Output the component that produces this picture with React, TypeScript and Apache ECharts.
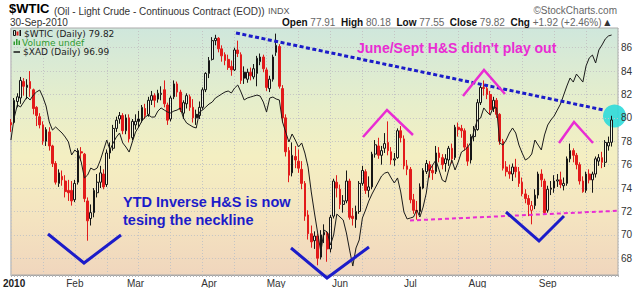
import React, { useEffect, useRef } from "react";
import * as echarts from "echarts";

const FONT = '"Liberation Sans", Arial, Helvetica, sans-serif';
const LEGEND_FONT = '"DejaVu Sans", Verdana, sans-serif';

// ---- categories: trading days (2009-12-31 plus 2010 sessions) ----
const monthLabels = ["2010", "Feb", "Mar", "Apr", "May", "Jun", "Jul", "Aug", "Sep"];
const janDays = [4, 5, 6, 7, 8, 11, 12, 13, 14, 15, 19, 20, 21, 22, 25, 26, 27, 28, 29];
const febDays = [1, 2, 3, 4, 5, 8, 9, 10, 11, 12, 16, 17, 18, 19, 22, 23, 24, 25, 26];
const marDays = [1, 2, 3, 4, 5, 8, 9, 10, 11, 12, 15, 16, 17, 18, 19, 22, 23, 24, 25, 26, 29, 30, 31];
const aprDays = [1, 5, 6, 7, 8, 9, 12, 13, 14, 15, 16, 19, 20, 21, 22, 23, 26, 27, 28, 29, 30];
const mayDays = [3, 4, 5, 6, 7, 10, 11, 12, 13, 14, 17, 18, 19, 20, 21, 24, 25, 26, 27, 28];
const junDays = [1, 2, 3, 4, 7, 8, 9, 10, 11, 14, 15, 16, 17, 18, 21, 22, 23, 24, 25, 28, 29, 30];
const julDays = [1, 2, 6, 7, 8, 9, 12, 13, 14, 15, 16, 19, 20, 21, 22, 23, 26, 27, 28, 29, 30];
const augDays = [2, 3, 4, 5, 6, 9, 10, 11, 12, 13, 16, 17, 18, 19, 20, 23, 24, 25, 26, 27, 30, 31];
const sepDays = [1, 2, 3, 7, 8, 9, 10, 13, 14, 15, 16, 17, 20, 21, 22, 23, 24, 27, 28, 29, 30];
const monthDays = [janDays, febDays, marDays, aprDays, mayDays, junDays, julDays, augDays, sepDays];

// ---- $WTIC daily candles: [open, close, low, high] ----
const wticDec31 = [79.6, 79.4, 78.8, 79.9];
const wticJan = [
  [79.6, 81.5, 79.5, 81.7], [81.4, 81.8, 80.9, 82.1], [81.7, 83.2, 81.2, 83.5], [83.1, 82.7, 81.9, 83.4],
  [82.6, 82.8, 81.6, 83.3], [83.1, 82.5, 81.8, 84.0], [82.4, 80.8, 80.3, 82.5], [80.9, 80.2, 79.3, 81.0],
  [80.1, 79.4, 79.1, 80.4], [79.4, 78.0, 77.7, 79.7], [78.0, 79.0, 77.6, 79.2], [78.8, 77.6, 77.2, 79.2],
  [77.6, 76.1, 75.8, 77.7], [76.1, 74.5, 74.3, 76.3], [74.4, 75.3, 74.1, 75.6], [75.0, 74.7, 74.2, 75.5],
  [74.6, 73.7, 73.2, 75.1], [73.8, 73.6, 72.9, 74.7], [73.8, 72.9, 72.5, 74.6],
];
const wticFeb = [
  [73.0, 74.4, 72.8, 74.7], [74.5, 77.2, 74.3, 77.4], [77.1, 77.0, 76.3, 77.5], [76.9, 73.1, 72.8, 77.0],
  [72.9, 71.2, 69.5, 73.2], [71.4, 71.9, 70.8, 72.6], [71.9, 73.8, 71.5, 74.0], [73.6, 74.5, 73.2, 75.2],
  [74.5, 75.3, 74.0, 75.9], [75.2, 74.1, 73.9, 75.6], [74.3, 77.0, 74.1, 77.3], [77.0, 77.3, 76.5, 77.9],
  [77.4, 79.1, 77.2, 79.4], [79.1, 79.8, 78.8, 80.1], [79.9, 80.2, 79.5, 80.5], [80.2, 78.9, 78.6, 80.4],
  [78.9, 80.0, 78.6, 80.3], [80.0, 78.2, 77.9, 80.3], [78.3, 79.7, 78.1, 79.9],
];
const wticMar = [
  [79.4, 79.7, 79.0, 80.3], [79.9, 79.7, 79.2, 80.6], [79.8, 80.9, 79.6, 81.1], [80.8, 80.2, 79.9, 81.2],
  [80.3, 81.5, 80.1, 81.8], [81.5, 81.9, 81.1, 82.3], [81.9, 81.5, 80.9, 82.1], [81.6, 82.1, 81.3, 82.4],
  [82.0, 82.1, 81.5, 82.7], [82.4, 81.2, 80.9, 83.2], [81.1, 79.8, 79.4, 81.3], [79.9, 81.7, 79.7, 81.9],
  [81.8, 82.9, 81.6, 83.2], [82.9, 82.2, 81.8, 83.1], [82.2, 80.7, 80.5, 82.4], [80.4, 81.3, 79.9, 81.5],
  [81.2, 81.9, 80.8, 82.1], [81.8, 80.9, 80.6, 82.0], [80.9, 80.0, 79.6, 81.6], [80.3, 80.0, 79.4, 80.7],
  [80.2, 80.9, 79.9, 81.4], [80.9, 82.4, 80.7, 82.6], [82.4, 83.8, 82.2, 83.9],
];
const wticApr = [
  [83.8, 84.9, 83.4, 85.2], [85.0, 86.6, 84.9, 86.9], [86.6, 86.8, 86.2, 87.1], [86.8, 85.9, 85.6, 86.9],
  [85.9, 85.3, 84.8, 86.2], [85.4, 84.9, 84.5, 85.6], [85.0, 84.3, 84.1, 85.4], [84.4, 84.1, 83.6, 84.9],
  [84.1, 85.8, 84.0, 86.0], [85.8, 85.5, 85.2, 86.6], [85.4, 83.2, 82.9, 85.6], [83.9, 83.4, 82.9, 84.4],
  [83.3, 83.9, 83.0, 84.2], [83.9, 83.6, 83.2, 84.3], [83.5, 84.2, 83.3, 84.6], [83.8, 85.1, 82.7, 85.3],
  [84.8, 85.2, 84.5, 85.5], [85.2, 84.2, 83.9, 85.4], [84.1, 82.6, 82.3, 84.3], [82.5, 83.3, 82.2, 83.6],
  [83.3, 85.2, 83.1, 85.4],
];
const wticMay = [
  [85.6, 86.2, 85.3, 87.2], [86.1, 82.7, 82.5, 86.3], [82.5, 80.0, 79.6, 82.8], [80.0, 77.1, 76.7, 80.3],
  [77.2, 75.1, 74.5, 77.5], [75.3, 76.8, 75.0, 77.9], [76.7, 76.4, 75.7, 77.6], [76.3, 75.7, 75.3, 77.3],
  [75.6, 74.4, 73.9, 76.3], [74.4, 71.6, 71.2, 74.6], [71.7, 70.1, 69.6, 72.1], [70.1, 69.4, 68.9, 70.8],
  [69.5, 69.9, 68.8, 70.3], [69.9, 68.0, 67.4, 70.1], [68.1, 70.0, 67.9, 70.4], [70.0, 70.2, 69.3, 70.9],
  [70.1, 68.8, 67.7, 70.3], [68.8, 71.5, 68.5, 71.7], [71.6, 74.6, 71.4, 74.8], [74.5, 74.0, 73.2, 75.1],
];
const wticJun = [
  [73.9, 72.6, 72.2, 74.3], [72.6, 72.9, 71.9, 73.4], [72.9, 74.6, 72.7, 75.5], [74.6, 71.5, 71.3, 74.8],
  [71.6, 71.4, 70.8, 72.3], [71.3, 72.0, 70.6, 72.5], [72.0, 74.4, 71.8, 74.6], [74.4, 75.5, 74.2, 75.9],
  [75.4, 73.8, 73.5, 75.6], [73.8, 74.1, 73.2, 75.0], [74.1, 76.9, 73.9, 77.1], [76.9, 77.7, 76.6, 78.1],
  [77.6, 76.8, 76.5, 78.3], [76.8, 77.2, 76.0, 77.6], [77.4, 77.8, 77.0, 78.7], [77.9, 77.2, 76.8, 79.7],
  [77.1, 76.4, 76.0, 77.5], [76.4, 76.5, 75.9, 77.0], [76.6, 78.9, 76.5, 79.1], [78.9, 78.3, 77.9, 79.3],
  [78.2, 75.9, 75.6, 78.5], [75.9, 75.6, 75.1, 76.4],
];
const wticJul = [
  [75.6, 73.0, 72.7, 75.8], [73.0, 72.1, 71.8, 73.5], [72.1, 72.0, 71.3, 72.9], [72.0, 74.1, 71.7, 74.4],
  [74.0, 75.5, 73.9, 75.7], [75.4, 76.1, 75.2, 76.4], [76.0, 75.5, 74.9, 76.3], [75.5, 75.3, 74.7, 76.0],
  [75.4, 77.0, 75.2, 77.6], [77.0, 76.6, 76.2, 77.5], [76.6, 76.0, 75.6, 76.9], [76.1, 76.5, 75.4, 76.9],
  [76.4, 77.4, 75.9, 77.6], [77.4, 76.5, 76.1, 77.8], [76.6, 79.2, 76.4, 79.4], [79.2, 79.0, 78.4, 79.6],
  [79.1, 78.9, 78.3, 79.4], [78.9, 77.5, 77.2, 79.1], [77.5, 76.3, 75.9, 77.8], [76.4, 78.4, 76.1, 78.6],
  [78.4, 79.0, 78.0, 79.3],
];
const wticAug = [
  [79.0, 81.3, 78.9, 81.6], [81.3, 82.6, 81.1, 82.9], [82.6, 82.5, 81.9, 83.2], [82.5, 82.0, 81.6, 82.8],
  [82.0, 80.7, 80.3, 82.3], [80.8, 81.5, 80.5, 81.8], [81.5, 80.3, 80.0, 81.7], [80.3, 78.0, 77.7, 80.4],
  [78.0, 75.7, 75.5, 78.2], [75.8, 75.4, 75.0, 76.3], [75.4, 75.2, 74.8, 76.0], [75.2, 75.8, 74.6, 76.1],
  [75.8, 75.4, 74.9, 76.5], [75.4, 74.4, 74.1, 75.8], [74.5, 73.5, 73.3, 74.9], [73.5, 73.1, 72.7, 73.9],
  [73.1, 72.6, 71.6, 73.4], [72.1, 72.5, 70.9, 72.9], [72.5, 73.4, 72.2, 73.9], [73.4, 75.2, 73.1, 75.4],
  [75.2, 74.7, 74.1, 75.6], [74.6, 71.9, 71.7, 74.8],
];
const wticSep = [
  [72.1, 73.9, 71.9, 74.2], [73.9, 74.0, 73.4, 74.6], [74.0, 74.6, 73.6, 75.1], [74.6, 74.7, 74.1, 75.2],
  [74.7, 74.3, 74.0, 75.4], [74.2, 74.4, 73.8, 74.9], [74.4, 76.5, 74.2, 76.7], [76.5, 77.2, 76.2, 77.8],
  [77.2, 76.8, 76.2, 77.4], [76.8, 76.0, 75.6, 77.0], [76.0, 74.6, 74.3, 76.2], [74.6, 73.7, 73.6, 75.0],
  [73.8, 75.2, 73.6, 75.4], [75.2, 74.7, 74.4, 75.6], [74.7, 75.2, 73.6, 75.4], [75.2, 76.5, 74.9, 76.7],
  [76.3, 76.6, 75.9, 76.9], [76.6, 76.2, 75.7, 77.1], [76.2, 77.9, 75.8, 78.1], [77.6, 77.9, 77.2, 78.4],
  [77.91, 79.82, 77.55, 80.18],
];

// ---- $XAD overlay (daily close) ----
const xadDec31 = 89.49;
const xadJan = [91.06, 91.99, 91.85, 92.2, 92.56, 92.35, 92.7, 92.92, 93.06, 92.56, 91.92, 90.78, 90.2, 90.42, 90.2, 89.99, 89.7, 89.35, 88.42];
const xadFeb = [88.78, 88.56, 87.92, 86.78, 86.99, 87.49, 87.35, 87.49, 88.06, 88.78, 89.49, 88.78, 89.28, 89.7, 89.99, 89.28, 88.99, 88.63, 89.35];
const xadMar = [90.06, 90.42, 90.85, 91.13, 91.28, 91.13, 91.13, 91.56, 91.78, 91.63, 91.49, 91.42, 91.56, 91.63, 91.78, 91.06, 90.7, 90.56, 90.42, 90.35, 91.49, 91.63, 91.85];
const xadApr = [92.06, 92.2, 92.49, 92.63, 92.78, 92.92, 92.99, 92.85, 93.2, 93.42, 92.92, 92.35, 92.49, 92.56, 92.63, 92.7, 92.63, 92.2, 91.49, 92.49, 92.56];
const xadMay = [92.42, 92.35, 90.78, 90.06, 89.35, 89.92, 89.49, 88.99, 89.28, 88.56, 87.56, 85.78, 84.28, 82.85, 81.49, 83.06, 82.92, 81.99, 82.7, 84.2];
const xadJun = [83.99, 83.78, 82.85, 81.63, 80.49, 81.78, 82.35, 83.92, 84.49, 85.13, 85.63, 86.06, 86.49, 86.92, 87.13, 87.2, 86.78, 86.42, 86.78, 85.78, 84.35, 83.85];
const xadJul = [83.92, 83.99, 84.49, 83.99, 84.7, 85.7, 87.35, 87.7, 88.06, 87.35, 86.63, 86.49, 87.35, 88.06, 87.35, 87.92, 88.63, 88.78, 88.99, 89.35, 90.2];
const xadAug = [90.92, 91.06, 91.78, 91.49, 91.28, 91.85, 91.78, 89.28, 89.13, 89.49, 89.99, 90.35, 89.99, 89.13, 88.56, 88.06, 88.2, 88.49, 89.49, 89.13, 88.78, 89.85];
const xadSep = [90.56, 90.92, 91.2, 91.63, 92.06, 92.7, 93.35, 93.92, 93.63, 94.2, 93.92, 93.63, 94.78, 95.35, 95.56, 94.99, 95.92, 96.28, 96.7, 96.92, 96.99];

const priceTicks = [68, 70, 72, 74, 76, 78, 80, 82, 84, 86];
const PRICE_MIN = 66.57;
const PRICE_MAX = 87.68;
const XAD_MIN = 79.85;
const XAD_MAX = 97.49;

// ---- derived tables ----
const dates: string[] = ["2009-12-31"];
const monthStart: Record<number, string> = {};
monthDays.forEach((days, m) => {
  days.forEach((d, j) => {
    if (j === 0) monthStart[dates.length] = monthLabels[m];
    dates.push(`2010-${String(m + 1).padStart(2, "0")}-${String(d).padStart(2, "0")}`);
  });
});
const categories = [...dates, "", ""];
const ohlc: number[][] = [wticDec31, ...wticJan, ...wticFeb, ...wticMar, ...wticApr, ...wticMay, ...wticJun, ...wticJul, ...wticAug, ...wticSep];
const xad: number[] = [xadDec31, ...xadJan, ...xadFeb, ...xadMar, ...xadApr, ...xadMay, ...xadJun, ...xadJul, ...xadAug, ...xadSep];

const RED = "#e21b1b";
const BLACK = "#161616";
const HOLLOW = "rgba(255,255,255,0.45)";
const PINK = "#e92cd3";
const BLUE = "#1c1cc9";
const GREEN = "#2f9a2f";

const candleData = ohlc.map((d, i) => {
  const prevClose = i > 0 ? ohlc[i - 1][1] : d[0];
  const c = d[1] < prevClose ? RED : BLACK;
  const fill = d[1] > d[0] ? HOLLOW : c;
  return {
    value: d,
    itemStyle: { color: fill, color0: fill, borderColor: c, borderColor0: c, borderColorDoji: c },
  };
});

const last = ohlc[ohlc.length - 1];
const prev = ohlc[ohlc.length - 2];
const chg = last[1] - prev[1];
const chgPct = (chg / prev[1]) * 100;

export default function App() {
  const ref = useRef<HTMLDivElement>(null);
  useEffect(() => {
    if (!ref.current) return;
    const chart = echarts.init(ref.current, undefined, { renderer: "svg" });

    const txt = (x: number, y: number, text: string, font: string, fill: string, extra: any = {}) => ({
      type: "text",
      x,
      y,
      z: 100,
      style: { text, font, fill, verticalAlign: "middle", ...extra },
    });

    const header =
      `{l|Open} {v|${last[0].toFixed(2)}}  {l|High} {v|${last[3].toFixed(2)}}  {l|Low} {v|${last[2].toFixed(2)}}  ` +
      `{l|Close} {v|${last[1].toFixed(2)}}  {l|Chg} {v|${chg >= 0 ? "+" : ""}${chg.toFixed(2)} (${chg >= 0 ? "+" : ""}${chgPct.toFixed(2)}%)} {a|▲}`;

    const graphic: any[] = [
      txt(9, 8.5, "$WTIC", `bold 13px ${FONT}`, "#000"),
      txt(54, 11, "(Oil - Light Crude - Continuous Contract (EOD))", `10px ${FONT}`, "#333"),
      txt(268, 11, "INDX", `9px ${FONT}`, "#555"),
      txt(617, 10, "©StockCharts.com", `10px ${FONT}`, "#666", { align: "right" }),
      txt(10, 22, "30-Sep-2010", `10px ${FONT}`, "#333"),
      {
        type: "text",
        x: 282,
        y: 22,
        z: 100,
        style: {
          text: header,
          font: `10px ${FONT}`,
          fill: "#333",
          verticalAlign: "middle",
          rich: {
            l: { fontWeight: "bold", fontSize: 10, fontFamily: FONT, fill: "#111" },
            v: { fontSize: 10, fontFamily: FONT, fill: "#666" },
            a: { fontSize: 8, fontFamily: LEGEND_FONT, fill: "#333" },
          },
        },
      },
      // legend inside plot
      { type: "rect", z: 100, shape: { x: 13.5, y: 30.5, width: 2, height: 5 }, style: { fill: "none", stroke: BLACK, lineWidth: 1 } },
      { type: "rect", z: 100, shape: { x: 16.5, y: 31.5, width: 2, height: 4 }, style: { fill: RED } },
      { type: "rect", z: 100, shape: { x: 19.5, y: 30, width: 1.5, height: 6 }, style: { fill: BLACK } },
      txt(24, 33.5, `$WTIC (Daily) ${last[1].toFixed(2)}`, `9px ${LEGEND_FONT}`, "#222"),
      { type: "rect", z: 100, shape: { x: 13.5, y: 41.5, width: 1.5, height: 3.5 }, style: { fill: GREEN } },
      { type: "rect", z: 100, shape: { x: 16, y: 39, width: 1.5, height: 6 }, style: { fill: GREEN } },
      { type: "rect", z: 100, shape: { x: 18.5, y: 40.5, width: 1.5, height: 4.5 }, style: { fill: GREEN } },
      txt(22, 42.5, "Volume undef", `9px ${LEGEND_FONT}`, GREEN),
      { type: "line", z: 100, shape: { x1: 13.5, y1: 52, x2: 20, y2: 52 }, style: { stroke: BLACK, lineWidth: 1.5 } },
      txt(23, 52, `$XAD (Daily) ${xad[xad.length - 1].toFixed(2)}`, `9px ${LEGEND_FONT}`, "#222"),
      // annotations
      { type: "circle", z: 1, shape: { cx: 614.5, cy: 116, r: 11.5 }, style: { fill: "rgba(45,218,218,0.9)" } },
      { type: "line", z: 100, shape: { x1: 236, y1: 33, x2: 604, y2: 110.1 }, style: { stroke: BLUE, lineWidth: 3, lineDash: [4, 2.5] } },
      { type: "line", z: 100, shape: { x1: 410, y1: 220.5, x2: 617, y2: 210.8 }, style: { stroke: PINK, lineWidth: 2, lineDash: [4, 3] } },
      { type: "polyline", z: 100, shape: { points: [[48, 234], [84, 263], [121, 235]] }, style: { stroke: BLUE, lineWidth: 3, fill: null } },
      { type: "polyline", z: 100, shape: { points: [[291, 248], [327, 278], [369, 247]] }, style: { stroke: BLUE, lineWidth: 3, fill: null } },
      { type: "polyline", z: 100, shape: { points: [[506, 212], [539, 241], [564, 216]] }, style: { stroke: BLUE, lineWidth: 3, fill: null } },
      { type: "polyline", z: 100, shape: { points: [[363, 137], [387, 110], [413, 135]] }, style: { stroke: PINK, lineWidth: 2.5, fill: null } },
      { type: "polyline", z: 100, shape: { points: [[463, 96], [484, 70], [505, 94]] }, style: { stroke: PINK, lineWidth: 2.5, fill: null } },
      { type: "polyline", z: 100, shape: { points: [[559, 143], [574, 122], [593, 143]] }, style: { stroke: PINK, lineWidth: 2.5, fill: null } },
      txt(357, 47.5, "June/Sept H&S didn't play out", `bold 14px ${FONT}`, PINK),
      txt(123, 201.7, "YTD Inverse H&S is now", `bold 14.5px ${FONT}`, BLUE),
      txt(123, 220.2, "tesing the neckline", `bold 14.5px ${FONT}`, BLUE),
    ];

    chart.setOption({
      animation: false,
      grid: {
        left: 10,
        right: 22,
        top: 28,
        bottom: 13,
        show: true,
        borderColor: "#ababab",
        borderWidth: 1,
        backgroundColor: new echarts.graphic.LinearGradient(0, 0, 0, 1, [
          { offset: 0, color: "#cfe7dc" },
          { offset: 0.3, color: "#e6eecb" },
          { offset: 0.52, color: "#f4efc2" },
          { offset: 0.78, color: "#f4e3c0" },
          { offset: 1, color: "#f0d6bd" },
        ]),
      },
      xAxis: {
        type: "category",
        data: categories,
        boundaryGap: false,
        axisLine: { show: true, lineStyle: { color: "#a6a6a6", width: 1 } },
        axisTick: { show: true, interval: 0, length: 2, lineStyle: { color: "#b4b4b4" } },
        axisLabel: {
          interval: (i: number) => monthStart[i] !== undefined,
          formatter: (_v: string, i: number) => (monthStart[i] === "2010" ? "{b|2010}" : monthStart[i] || ""),
          margin: 3,
          fontSize: 10,
          fontFamily: FONT,
          color: "#333",
          rich: { b: { fontWeight: "bold", fontSize: 10, fontFamily: FONT, color: "#222" } },
        },
        splitLine: { show: true, interval: 9, lineStyle: { color: "#c4c4c4", width: 1, type: [1, 2] } },
      },
      yAxis: [
        {
          type: "value",
          position: "right",
          min: PRICE_MIN,
          max: PRICE_MAX,
          z: 3,
          axisLine: { show: false },
          axisTick: { show: false, customValues: priceTicks },
          axisLabel: { customValues: priceTicks, margin: 3, fontSize: 10, fontFamily: FONT, color: "#333" },
          splitLine: { show: true, lineStyle: { color: "#c4c4c4", width: 1, type: [1, 2] } },
        },
        { type: "value", show: false, min: XAD_MIN, max: XAD_MAX },
      ],
      series: [
        {
          type: "candlestick",
          data: candleData,
          barWidth: 2.2,
          z: 4,
          itemStyle: { color: HOLLOW, color0: RED, borderColor: BLACK, borderColor0: RED, borderWidth: 1 },
        },
        {
          type: "line",
          yAxisIndex: 1,
          data: xad,
          symbol: "none",
          showSymbol: false,
          z: 5,
          lineStyle: { color: "#1a1a1a", width: 1 },
        },
      ],
      graphic,
    });
    return () => chart.dispose();
  }, []);

  return <div ref={ref} style={{ position: "absolute", left: 0, top: 0, width: 640, height: 288 }} />;
}
